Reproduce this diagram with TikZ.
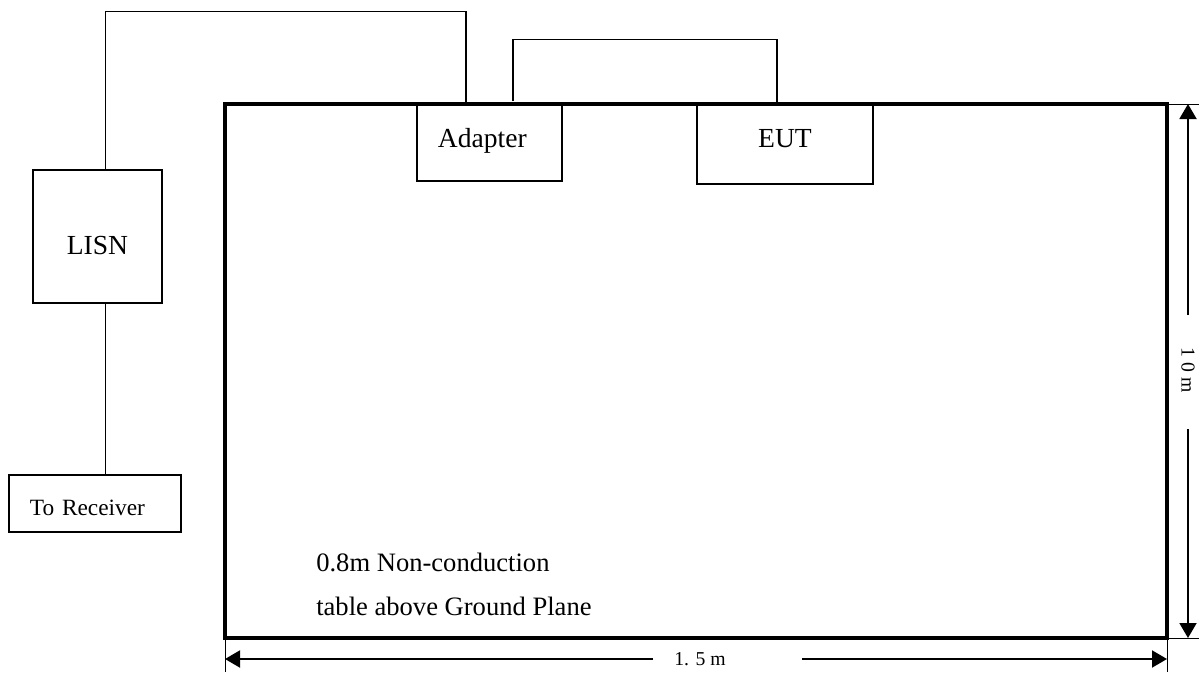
\documentclass[tikz,border=0pt]{standalone}
\usepackage{fontspec}
\setmainfont{Liberation Serif}
\usepackage{tikz}
\usetikzlibrary{positioning, arrows.meta, calc}
\tikzset{
  % plain box = piece of equipment
  unit/.style={draw=black, line width=0.9pt, inner sep=0pt,
               font=\fontsize{19.6}{23}\selectfont},
  % thin cable between units
  cable/.style={draw=black, line width=0.8pt},
  % outline of the table
  tabletop/.style={draw=black, line width=2.3pt},
  % dimension arrow and its witness lines
  dimarrow/.style={-{Triangle[length=0.375cm,width=0.425cm]}, line width=1.4pt},
  dimext/.style={draw=black, line width=0.6pt},
  dimtext/.style={font=\fontsize{14}{17}\selectfont, inner sep=0pt},
  tabletext/.style={font=\fontsize{18.9}{22}\selectfont, inner sep=0pt, anchor=base west},
}

\begin{document}
\begin{tikzpicture}[x=0.025cm, y=-0.025cm]
  \useasboundingbox (0,0) rectangle (1199,672);
  \coordinate (tnw) at (225,104);
  \coordinate (tse) at (1167,638);
  \coordinate (pgbottom) at (0,672);
  \coordinate (pgright) at (1199,0);

  \node[tabletext] (tabline1) at (316,571) {0.8m Non-conduction};
  \node[tabletext] (tabline2) at (316,615) {table above Ground Plane};
  \draw[tabletop] (tnw) rectangle (tse);

  \node[unit, minimum width=3.625cm, minimum height=1.925cm,
        text width=2.575cm, inner xsep=0.525cm, align=left,
        text height=0.475cm, text depth=0.25cm] (adapter) at (489.5,142.5) {Adapter};
  \node[unit, minimum width=4.4cm, minimum height=2cm,
        text height=0.455cm, text depth=0.305cm] (eut) at (785,144) {EUT};
  \node[unit, minimum width=3.225cm, minimum height=3.325cm,
        text height=0.875cm, text depth=0cm] (lisn) at (97.5,236.5) {LISN};
  \node[unit, font=\fontsize{16.6}{20}\selectfont, minimum width=4.3cm, minimum height=1.425cm,
        text width=3.25cm, inner xsep=0.525cm, align=left,
        text height=0.575cm, text depth=0cm] (rx) at (95,503.5) {To Receiver};

  \draw[cable] ($(lisn.north)+(8,0)$) -- ++(0,-158) -| ($(adapter.north)+(-23.5,0)$);
  \draw[cable] ($(adapter.north)+(23.5,-2)$) -- ++(0,-62) -| ($(eut.north)+(-8,0)$);
  \draw[cable] ($(lisn.south)+(8,0)$) -- ($(rx.north)+(10.5,0)$);

  % dimensions
  \node[dimtext, rotate=-90] (vlen) at (1188,370) {1 0 m};
  \node[dimtext] (hlen) at (700,659) {1. 5 m};
  \draw[dimarrow] ($(vlen)+(0,-55)$) -- (tnw -| vlen);
  \draw[dimarrow] ($(vlen)+(0,59)$) -- (tse -| vlen);
  \draw[dimarrow] ($(hlen)+(-47,0)$) -- (hlen -| tnw);
  \draw[dimarrow] ($(hlen)+(102,0)$) -- (hlen -| tse);
  \draw[dimext] (tnw |- tse) -- (tnw |- pgbottom);
  \draw[dimext] (tse) -- (tse |- pgbottom);
  \draw[dimext] (tse) -- (tse -| pgright);
  \draw[dimext] (tnw -| tse) -- (tnw -| pgright);
\end{tikzpicture}
\end{document}
